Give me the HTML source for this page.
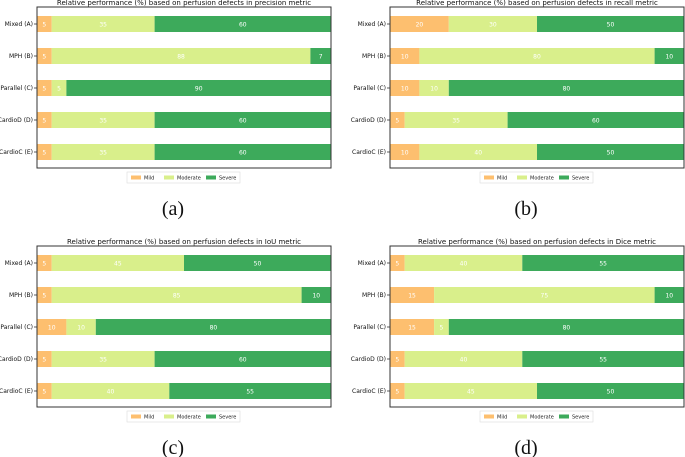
<!DOCTYPE html>
<html><head><meta charset="utf-8">
<style>
html,body{margin:0;padding:0;background:#fff;}
svg{display:block;font-family:"DejaVu Sans","Liberation Sans",sans-serif;}
</style></head>
<body>
<svg id="fig" width="685" height="457"></svg>
<script>
const categories = ["Mixed (A)","MPH (B)","Parallel (C)","CardioD (D)","CardioC (E)"];
const seriesNames = ["Mild","Moderate","Severe"];
const titles = ["precision","recall","IoU","Dice"];
const captions = ["(a)","(b)","(c)","(d)"];
const mildA = [5,5,5,5,5], modA = [35,88,5,35,35], sevA = [60,7,90,60,60];
const mildB = [20,10,10,5,10], modB = [30,80,10,35,40], sevB = [50,10,80,60,50];
const mildC = [5,5,10,5,5], modC = [45,85,10,35,40], sevC = [50,10,80,60,55];
const mildD = [5,15,15,5,5], modD = [40,75,5,40,45], sevD = [55,10,80,55,50];
const panelsData = [[mildA,modA,sevA],[mildB,modB,sevB],[mildC,modC,sevC],[mildD,modD,sevD]];
const colors = ["#fdbf6f","#d9ef8b","#3daa5b"];
const NS = "http://www.w3.org/2000/svg";
const fig = document.getElementById('fig');
function mk(tag, attrs, parent){const e=document.createElementNS(NS,tag);for(const k in attrs)e.setAttribute(k,attrs[k]);(parent||fig).appendChild(e);return e;}
const origins = [[37,7],[390,7],[37,246],[390,246]];
const W = 294, H = 161;
panelsData.forEach((series, p) => {
  const [ox, oy] = origins[p];
  const g = mk('g', {});
  
  
  const xs = v => ox + v / 100 * W;
  const rowY = i => oy + 9 + i * 32;
  const t = mk('text', {x: ox + W/2, y: oy - 2, 'font-size': 7, 'text-anchor': 'middle', fill: '#111'}, g);
  t.textContent = 'Relative performance (%) based on perfusion defects in ' + titles[p] + ' metric';
  
  
  categories.forEach((c, i) => {
    let acc = 0;
    series.forEach((arr, s) => {
      const v = arr[i];
      const r = mk('rect', {x: xs(acc), y: rowY(i), width: xs(acc+v) - xs(acc), height: 16, fill: colors[s]}, g);
      
      
      const lt = mk('text', {x: xs(acc + v/2), y: rowY(i) + 10.5, 'font-size': 6, 'text-anchor': 'middle', fill: '#fff'}, g);
      lt.textContent = v;
      
      
      acc += v;
    });
    mk('line', {x1: ox - 3, x2: ox, y1: rowY(i) + 8, y2: rowY(i) + 8, stroke: '#333', 'stroke-width': 0.8}, g);
    const yl = mk('text', {x: ox - 4, y: rowY(i) + 10, 'font-size': 6, 'text-anchor': 'end', fill: '#111'}, g);
    yl.textContent = c;
    
    
  });
  const frame = mk('rect', {x: ox, y: oy, width: W, height: H, fill: 'none', stroke: '#333', 'stroke-width': 1}, g);
  
  
  const lg = mk('g', {}, g);
  
  
  const lx = ox + 90, ly = oy + 165;
  mk('rect', {x: lx, y: ly, width: 113, height: 11, fill: '#fff', stroke: '#ddd', 'stroke-width': 0.6}, lg);
  const offs = [4, 37, 79];
  seriesNames.forEach((n, s) => {
    const e = mk('rect', {x: lx + offs[s], y: ly + 3.5, width: 10, height: 4, fill: colors[s]}, lg);
    
    
    const tx = mk('text', {x: lx + offs[s] + 13, y: ly + 7.5, 'font-size': 5, fill: '#222'}, lg);
    tx.textContent = n;
    
    
  });
  const cap = mk('text', {x: ox + 136, y: oy + 208, 'font-size': 20, 'text-anchor': 'middle', fill: '#111', 'font-family': '"Liberation Serif","DejaVu Serif",serif'}, g);
  cap.textContent = captions[p];
  
  
});
</script>
</body></html>
